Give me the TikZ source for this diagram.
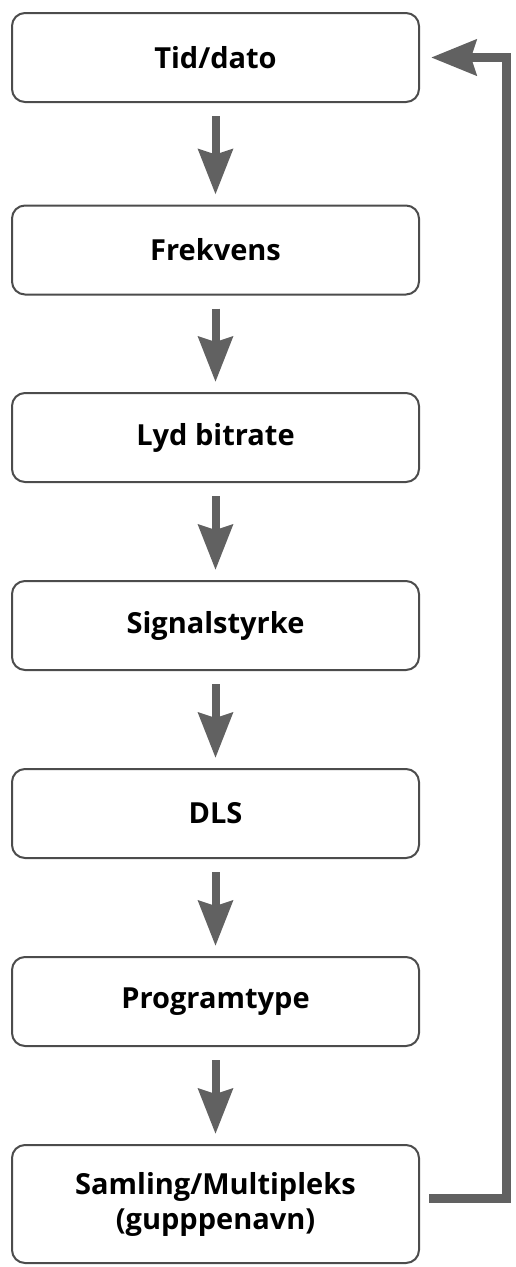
\documentclass[tikz,border=0pt]{standalone}
\usepackage{fontspec}
\setmainfont{Open Sans}
\usepackage{tikz}
\usetikzlibrary{arrows.meta, positioning}

\begin{document}
\begin{tikzpicture}[
    x=1pt, y=-1pt,
    font=\fontsize{29}{35}\selectfont\bfseries,
    stepbox/.style={draw=black!70, line width=2pt, rounded corners=13pt, fill=white,
                    align=center, minimum width=407pt, minimum height=89pt, inner sep=0pt},
    flow/.style={-{Stealth[length=45pt, width=34pt, inset=5pt]}, line width=8pt, black!62,
                 shorten <=13pt, shorten >=10pt},
    back/.style={-{Stealth[length=45pt, width=35pt, inset=5pt]}, line width=9pt, black!62},
]
\useasboundingbox (0,0) rectangle (515,1267);
% Column of steps, one every ~188pt
\node[stepbox] (tid)   at (215.5,57.5)   {Tid/dato};
\node[stepbox] (frek)  at (215.5,250)    {Frekvens};
\node[stepbox] (lyd)   at (215.5,437.5)  {Lyd bitrate};
\node[stepbox] (sig)   at (215.5,625.5)  {Signalstyrke};
\node[stepbox] (dls)   at (215.5,813.5)  {DLS};
\node[stepbox] (prog)  at (215.5,1001.5) {Programtype};
\node[stepbox, minimum height=118pt] (saml) at (215.5,1204) {Samling/Multipleks\\(gupppenavn)};

% Downward arrows between the steps
\draw[flow] (tid)  -- (frek);
\draw[flow] (frek) -- (lyd);
\draw[flow] (lyd)  -- (sig);
\draw[flow] (sig)  -- (dls);
\draw[flow] (dls)  -- (prog);
\draw[flow] (prog) -- (saml);
% Loop back from the last step to the first
\draw[back] ([xshift=9pt, yshift=6pt]saml.east) -- ++(77,0) |- ([xshift=11pt]tid.east);
\end{tikzpicture}
\end{document}
